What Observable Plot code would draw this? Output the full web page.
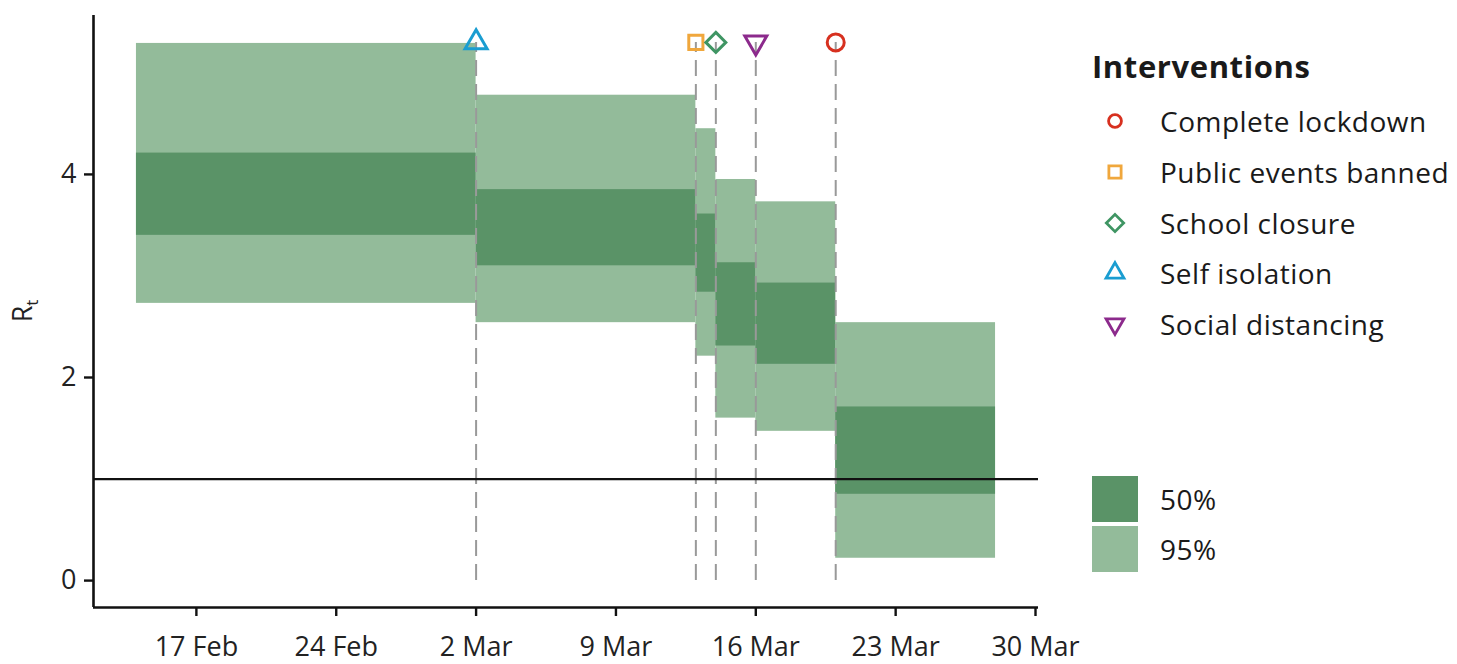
<!DOCTYPE html>
<html><head><meta charset="utf-8">
<script src="https://cdn.jsdelivr.net/npm/d3@7"></script>
<script src="https://cdn.jsdelivr.net/npm/@observablehq/plot@0.6"></script>
<style>
body{margin:0;background:#fff;font-family:"Open Sans",sans-serif;color:#1a1a1a;}
#wrap{position:relative;width:1457px;height:664px;overflow:hidden;}
#legend{position:absolute;left:1092px;top:45px;font-size:28px;letter-spacing:0.5px;}
#legend .title{font-weight:700;font-size:31px;letter-spacing:0.6px;margin-bottom:9px;}
#legend .item{display:flex;align-items:center;height:50.7px;}
#legend .item svg{width:46px;height:30px;margin-right:22px;}
#legend2{position:absolute;left:1092px;top:476px;font-size:28px;letter-spacing:0.5px;}
#legend2 .item{display:flex;align-items:center;height:46px;margin-bottom:4px;}
#legend2 .sw{width:46px;height:46px;margin-right:22px;}
</style></head><body><div id="wrap"></div>
<script>
// ---- data ----
const periodStart = ["2020-02-14","2020-03-02","2020-03-13","2020-03-14","2020-03-16","2020-03-20"];
const periodEnd   = ["2020-03-02","2020-03-13","2020-03-14","2020-03-16","2020-03-20","2020-03-28"];
const low95  = [2.73, 2.54, 2.21, 1.60, 1.47, 0.22];
const high95 = [5.29, 4.78, 4.45, 3.95, 3.73, 2.54];
const low50  = [3.40, 3.10, 2.84, 2.31, 2.13, 0.85];
const high50 = [4.21, 3.85, 3.61, 3.13, 2.93, 1.71];
const interventionNames  = ["Complete lockdown","Public events banned","School closure","Self isolation","Social distancing"];
const interventionDates  = ["2020-03-20","2020-03-13","2020-03-14","2020-03-02","2020-03-16"];
const interventionColors = ["#d7301f","#f0a73c","#3f9563","#1a9dd1","#8c2a8c"];
const markerY = 5.3;
const xTicks = ["2020-02-17","2020-02-24","2020-03-02","2020-03-09","2020-03-16","2020-03-23","2020-03-30"];
const yTicks = [0, 2, 4];
const color95 = "#93bb9a";
const color50 = "#5a9367";

// ---- build ----
const parse = s => new Date(s + "T00:00:00Z");
const periods = periodStart.map((s, i) => ({
  x1: parse(s), x2: parse(periodEnd[i]),
  lo95: low95[i], hi95: high95[i], lo50: low50[i], hi50: high50[i]
}));
const interventions = interventionNames.map((n, i) => ({name: n, date: parse(interventionDates[i]), color: interventionColors[i]}));

const xmin = d3.min(periods, d => d.x1), xmax = d3.max(periods, d => d.x2);
const xpad = (xmax - xmin) * 0.05;
const xDomain = [new Date(+xmin - xpad), new Date(+xmax + xpad)];
const ymax = Math.max(markerY, d3.max(high95)), ymin = 0;
const ypad = (ymax - ymin) * 0.05;
const yDomain = [ymin - ypad, ymax + ypad];

const invTriangle = {
  draw(context, size) {
    const s = Math.sqrt(size) * 0.6824, t = s / 2, u = s * Math.sqrt(3) / 2;
    context.moveTo(0, s); context.lineTo(u, -t); context.lineTo(-u, -t); context.closePath();
  }
};
const symbolFor = {
  "Complete lockdown": "circle",
  "Public events banned": "square2",
  "School closure": "diamond2",
  "Self isolation": "triangle2",
  "Social distancing": invTriangle
};
const rFor = {
  "Complete lockdown": 8.5,
  "Public events banned": 9,
  "School closure": 9,
  "Self isolation": 10.5,
  "Social distancing": 10.5
};

const font = "'Open Sans', sans-serif";
const chart = Plot.plot({
  width: 1457, height: 664,
  marginLeft: 93, marginRight: 419, marginTop: 15, marginBottom: 57,
  style: {fontFamily: font, fontSize: "27px", color: "#222", background: "#fff"},
  x: {type: "utc", domain: xDomain},
  y: {domain: yDomain},
  marks: [
    Plot.rect(periods, {x1: "x1", x2: "x2", y1: "lo95", y2: "hi95", fill: color95}),
    Plot.rect(periods, {x1: "x1", x2: "x2", y1: "lo50", y2: "hi50", fill: color50}),
    Plot.ruleX(interventions, {x: "date", y1: 0, y2: markerY, stroke: "#999", strokeWidth: 2, strokeDasharray: "16,8"}),
    Plot.ruleY([1], {stroke: "#111", strokeWidth: 2.2}),
    ...interventions.map(d => Plot.dot([d], {x: "date", y: () => markerY, symbol: symbolFor[d.name], r: rFor[d.name], stroke: d.color, strokeWidth: 3, fill: "none"})),
    Plot.ruleX([xDomain[0]], {stroke: "#111", strokeWidth: 2.6}),
    Plot.ruleY([yDomain[0]], {stroke: "#111", strokeWidth: 2.6}),
    Plot.axisX(xTicks.map(parse), {tickSize: 9, tickPadding: 20, tickFormat: d3.utcFormat("%-d %b"), fontSize: 27, strokeWidth: 2.4, stroke: "#111", label: null}),
    Plot.axisY(yTicks, {tickSize: 9, tickPadding: 8, tickFormat: d => String(d), fontSize: 27, strokeWidth: 2.4, stroke: "#111", label: null})
  ]
});

const wrap = document.getElementById("wrap");
wrap.appendChild(chart);

// y-axis label R_t
const svg = d3.select(chart);
const lab = svg.append("text")
  .attr("transform", "translate(32,311) rotate(-90)")
  .attr("text-anchor", "middle")
  .attr("font-family", font).attr("font-size", 27).attr("fill", "#222");
lab.append("tspan").text("R");
lab.append("tspan").attr("font-size", 17).attr("dy", 6).text("t");

// Legend: interventions
const legend = document.createElement("div");
legend.id = "legend";
let html = '<div class="title">Interventions</div>';
const legendSym = {
  "Complete lockdown": d3.symbol(d3.symbolCircle, 130)(),
  "Public events banned": d3.symbol(d3.symbolSquare2, 190)(),
  "School closure": d3.symbol(d3.symbolDiamond2, 190)(),
  "Self isolation": d3.symbol(d3.symbolTriangle2, 230)(),
  "Social distancing": d3.symbol(invTriangle, 230)()
};
interventions.forEach(d => {
  html += `<div class="item"><svg viewBox="-23 -15 46 30"><path d="${legendSym[d.name]}" fill="none" stroke="${d.color}" stroke-width="2.8"/></svg><span>${d.name}</span></div>`;
});
legend.innerHTML = html;
wrap.appendChild(legend);

// Legend: intervals
const legend2 = document.createElement("div");
legend2.id = "legend2";
legend2.innerHTML = `<div class="item"><div class="sw" style="background:${color50}"></div><span>50%</span></div>` +
  `<div class="item"><div class="sw" style="background:${color95}"></div><span>95%</span></div>`;
wrap.appendChild(legend2);
</script></body></html>
